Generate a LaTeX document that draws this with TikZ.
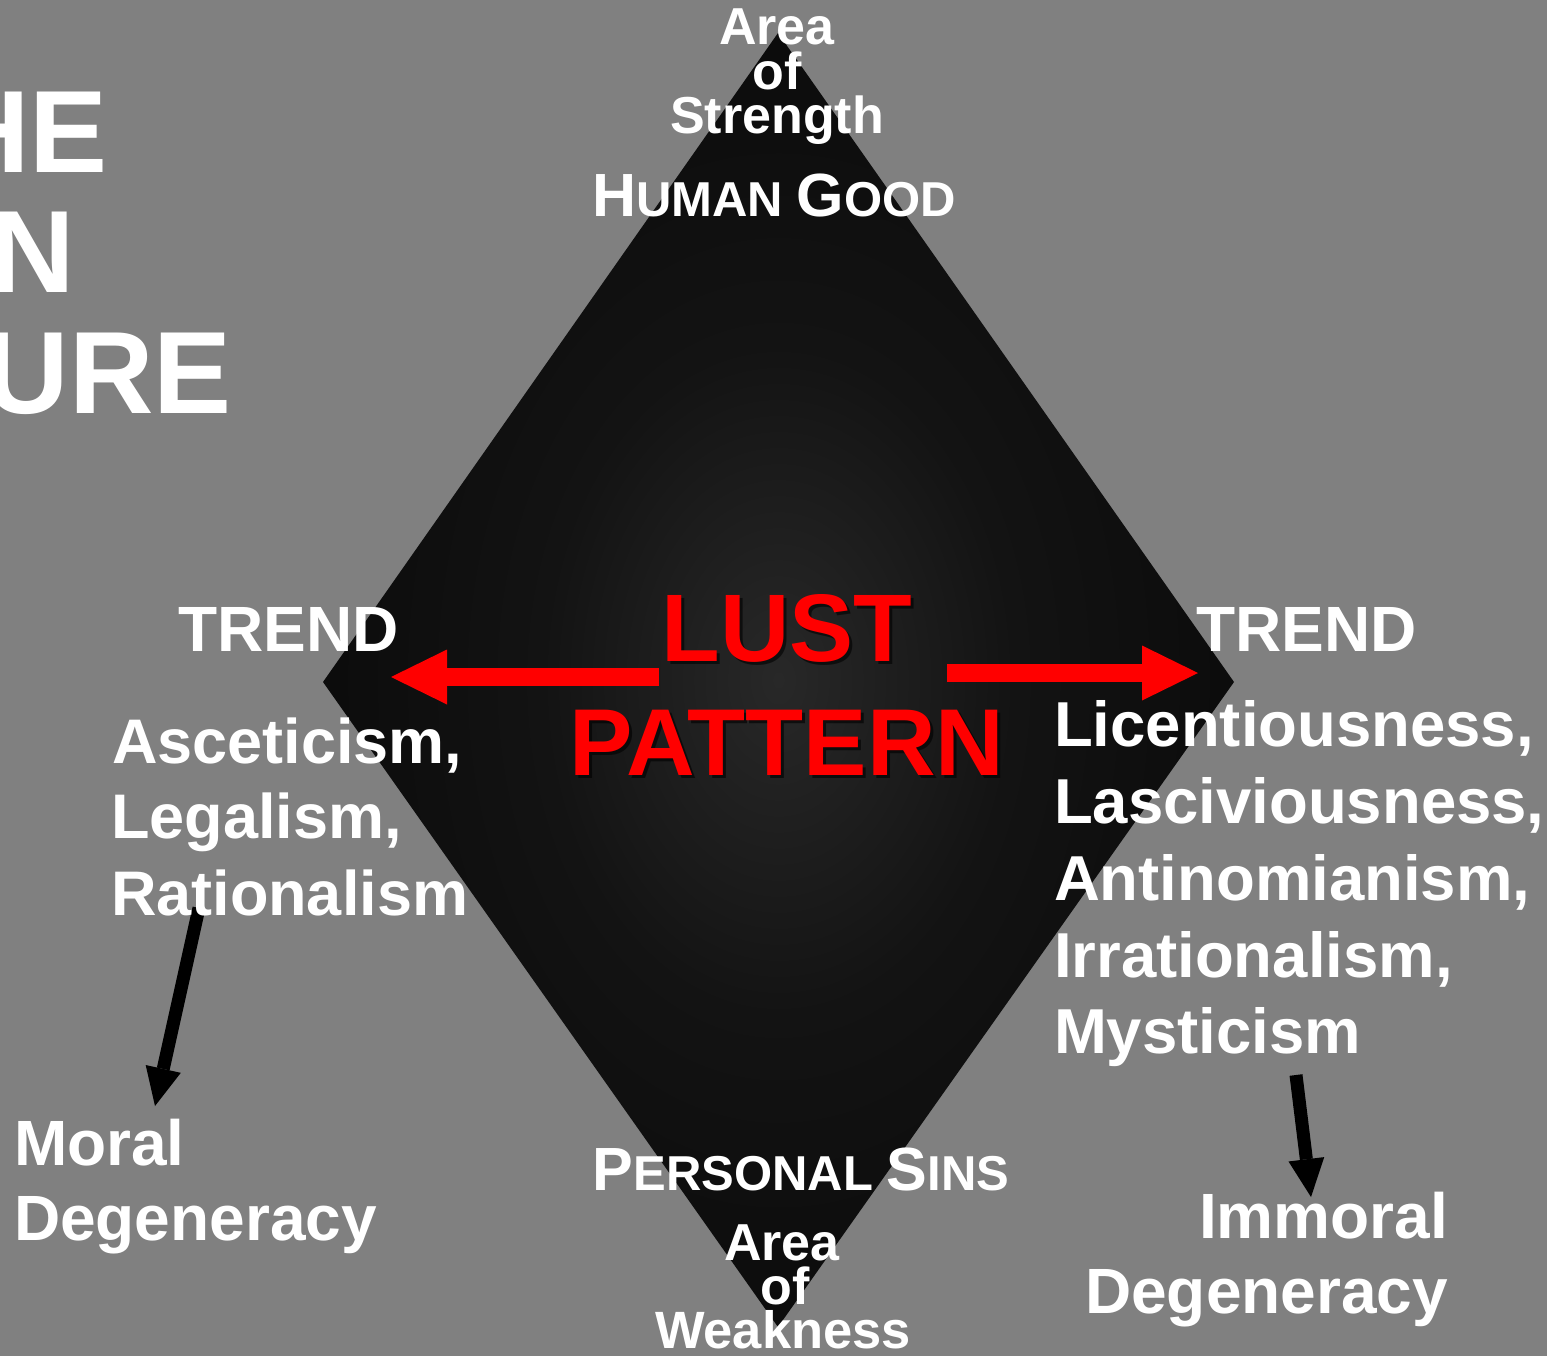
\documentclass[tikz,border=0pt]{standalone}
\usepackage{fontspec}
\setmainfont{Liberation Sans}
\usetikzlibrary{arrows.meta}
\definecolor{bggray}{RGB}{128,128,128}
\definecolor{dcenter}{RGB}{40,40,40}
\definecolor{dmid}{RGB}{19,19,19}
\definecolor{dedge}{RGB}{8,8,8}
\pgfdeclareradialshading{diamondshade}{\pgfpoint{0bp}{0bp}}{color(0bp)=(dcenter); color(13bp)=(dmid); color(31bp)=(dedge); color(50bp)=(dedge)}
\newcommand\fs[1]{\fontsize{#1}{#1}\selectfont\bfseries}
\newcommand\scw[2]{{\fs{61}#1}{\fs{49}#2}}
\begin{document}
\begin{tikzpicture}[x=1pt,y=-1pt,
  lbl/.style={text=white,inner sep=0pt,outer sep=0pt},
  redtxt/.style={text=red,inner sep=0pt,outer sep=0pt},
  shadowtxt/.style={text=black,text opacity=0.6,inner sep=0pt,outer sep=0pt},
  redarrow/.style={draw=red,line width=18pt,-{Triangle[length=56pt,width=55pt,line width=0pt]}},
  blackarrow/.style={draw=black,line width=13pt,-{Triangle[length=38pt,width=36pt,line width=0pt]}}
]
\fill[bggray] (0,0) rectangle (1547,1356);
\useasboundingbox (0,0) rectangle (1547,1356);

% diamond
\coordinate (T) at (778,33);
\coordinate (R) at (1234,682);
\coordinate (B) at (778,1327);
\coordinate (L) at (323,682);
\shade[shading=diamondshade] (T) -- (R) -- (B) -- (L) -- cycle;

% title fragments (cut by the left edge)
\node[lbl,anchor=base east,font=\fs{117}] (title1) at (108,173) {HE};
\node[lbl,anchor=base east,font=\fs{117}] (title2) at (75,293) {N};
\node[lbl,anchor=base east,font=\fs{117}] (title3) at (232,413) {URE};

% connectors
\coordinate (lustL) at (659,677);
\coordinate (trendLtip) at (391,677);
\coordinate (lustR) at (947,673);
\coordinate (trendRtip) at (1198,673);
\coordinate (ratioBot) at (199,908);
\coordinate (moralTop) at (155,1106);
\coordinate (mystBot) at (1296,1075);
\coordinate (immoralTop) at (1311,1197);
\draw[redarrow] (lustL) -- (trendLtip);
\draw[redarrow] (lustR) -- (trendRtip);
\draw[blackarrow] (ratioBot) -- (moralTop);
\draw[blackarrow] (mystBot) -- (immoralTop);

% top
\node[lbl,anchor=base,font=\fs{52}] (strA) at (777,45) {Area};
\node[lbl,anchor=base,font=\fs{52}] (strB) at (777,90) {of};
\node[lbl,anchor=base,font=\fs{52}] (strC) at (777,134) {Strength};
\node[lbl,anchor=base,font=\fs{49}] (good) at (774,217) {\scw{H}{UMAN} \scw{G}{OOD}};

% bottom
\node[lbl,anchor=base,font=\fs{49}] (sins) at (801,1190) {\scw{P}{ERSONAL} \scw{S}{INS}};
\node[lbl,anchor=base,font=\fs{52}] (weakA) at (782,1260) {Area};
\node[lbl,anchor=base,font=\fs{52}] (weakB) at (785,1304) {of};
\node[lbl,anchor=base,font=\fs{52.5}] (weakC) at (783,1348) {Weakness};

% centre
\node[shadowtxt,anchor=base,font=\fs{96}] (lustS) at (790,664) {LUST};
\node[shadowtxt,anchor=base,font=\fs{95}] (patS) at (790,778) {PATTERN};
\node[redtxt,anchor=base,font=\fs{96}] (lust) at (787,661) {LUST};
\node[redtxt,anchor=base,font=\fs{95}] (pattern) at (787,775) {PATTERN};

% left side
\node[lbl,anchor=base west,font=\fs{64}] (trendL) at (178,651) {TREND};
\node[lbl,anchor=base west,font=\fs{63}] (asc) at (112,763) {Asceticism,};
\node[lbl,anchor=base west,font=\fs{63}] (leg) at (111,838) {Legalism,};
\node[lbl,anchor=base west,font=\fs{63}] (rat) at (111,915) {Rationalism};
\node[lbl,anchor=base west,font=\fs{64}] (moral) at (14,1165) {Moral};
\node[lbl,anchor=base west,font=\fs{64}] (degL) at (14,1240) {Degeneracy};

% right side
\node[lbl,anchor=base west,font=\fs{64}] (trendR) at (1196,651) {TREND};
\node[lbl,anchor=base west,font=\fs{63.5}] (lic) at (1054,746) {Licentiousness,};
\node[lbl,anchor=base west,font=\fs{63.5}] (las) at (1054,823) {Lasciviousness,};
\node[lbl,anchor=base west,font=\fs{63.5}] (ant) at (1054,900) {Antinomianism,};
\node[lbl,anchor=base west,font=\fs{63.5}] (irr) at (1054,977) {Irrationalism,};
\node[lbl,anchor=base west,font=\fs{63.5}] (mys) at (1054,1053) {Mysticism};
\node[lbl,anchor=base east,font=\fs{64}] (immoral) at (1448,1238) {Immoral};
\node[lbl,anchor=base east,font=\fs{64}] (degR) at (1448,1313) {Degeneracy};
\end{tikzpicture}
\end{document}
